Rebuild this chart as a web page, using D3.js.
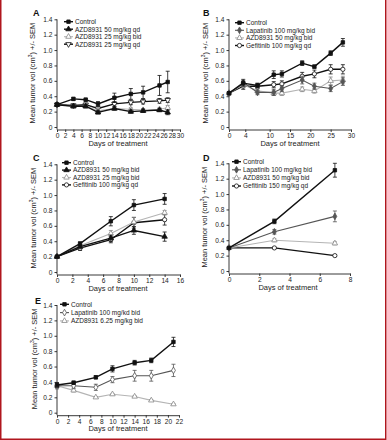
<!DOCTYPE html>
<html>
<head>
<meta charset="utf-8">
<script src="https://cdn.jsdelivr.net/npm/d3@7"></script>
<style>
  body { margin: 0; background: #fff; }
  svg { display: block; font-family: "Liberation Sans", Arial, sans-serif; }
</style>
</head>
<body>
<svg id="fig" width="387" height="440"></svg>
<script>
// ---- Panel A ----
const daysA = [0, 4, 7, 10, 14, 18, 21, 25, 27]
const controlA = [0.29, 0.365, 0.355, 0.30, 0.38, 0.43, 0.45, 0.54, 0.585]
const controlAErr = [0.02, 0.02, 0.02, 0.03, 0.06, 0.07, 0.08, 0.13, 0.14]
const azd50qdA = [0.29, 0.27, 0.27, 0.19, 0.24, 0.20, 0.21, 0.22, 0.19]
const azd50qdAErr = [0.02, 0.02, 0.02, 0.02, 0.02, 0.02, 0.02, 0.02, 0.03]
const azd25bidA = [0.29, 0.27, 0.27, 0.21, 0.24, 0.23, 0.22, 0.23, 0.25]
const azd25bidAErr = [0.02, 0.02, 0.02, 0.02, 0.02, 0.02, 0.02, 0.02, 0.03]
const azd25qdA = [0.29, 0.28, 0.29, 0.24, 0.30, 0.32, 0.33, 0.34, 0.35]
const azd25qdAErr = [0.02, 0.02, 0.02, 0.02, 0.03, 0.03, 0.03, 0.03, 0.03]

// ---- Panel B ----
const daysB = [0, 3.5, 7, 11, 13, 18, 21, 25, 28]
const controlB = [0.44, 0.57, 0.54, 0.68, 0.69, 0.83, 0.785, 0.96, 1.10]
const controlBErr = [0.02, 0.04, 0.03, 0.05, 0.04, 0.03, 0.02, 0.03, 0.05]
const lapB = [0.44, 0.58, 0.45, 0.45, 0.50, 0.61, 0.53, 0.50, 0.59]
const lapBErr = [0.02, 0.04, 0.03, 0.04, 0.04, 0.05, 0.04, 0.04, 0.05]
const azdB = [0.44, 0.55, 0.47, 0.44, 0.44, 0.49, 0.47, 0.60, 0.61]
const azdBErr = [0.02, 0.04, 0.03, 0.03, 0.03, 0.03, 0.03, 0.05, 0.05]
const gefB = [0.44, 0.53, 0.53, 0.55, 0.56, 0.66, 0.69, 0.75, 0.75]
const gefBErr = [0.02, 0.04, 0.03, 0.04, 0.04, 0.05, 0.05, 0.06, 0.06]

// ---- Panel C ----
const daysC = [0, 3, 7, 10, 14]
const controlC = [0.20, 0.37, 0.66, 0.87, 0.95]
const controlCErr = [0.01, 0.02, 0.06, 0.07, 0.07]
const azd50C = [0.20, 0.33, 0.44, 0.54, 0.46]
const azd50CErr = [0.01, 0.02, 0.04, 0.05, 0.06]
const azd25C = [0.20, 0.34, 0.50, 0.65, 0.77]
const azd25CErr = [0.01, 0.02, 0.04, 0.06, 0.03]
const gefC = [0.20, 0.31, 0.42, 0.64, 0.68]
const gefCErr = [0.01, 0.03, 0.04, 0.07, 0.07]

// ---- Panel D ----
const daysD = [0, 3, 7]
const controlD = [0.30, 0.645, 1.31]
const controlDErr = [0.01, 0.03, 0.09]
const lapD = [0.30, 0.51, 0.71]
const lapDErr = [0.01, 0.03, 0.07]
const azdD = [0.30, 0.40, 0.36]
const azdDErr = [0.01, 0.02, 0.02]
const gefD = [0.30, 0.30, 0.20]
const gefDErr = [0.01, 0.01, 0.01]

// ---- Panel E ----
const daysE = [0, 3, 7, 10, 14, 17, 21]
const controlE = [0.36, 0.39, 0.46, 0.57, 0.65, 0.68, 0.92]
const controlEErr = [0.03, 0.02, 0.02, 0.04, 0.03, 0.03, 0.06]
const lapE = [0.35, 0.35, 0.33, 0.43, 0.48, 0.48, 0.55]
const lapEErr = [0.04, 0.03, 0.04, 0.04, 0.07, 0.07, 0.08]
const azdE = [0.35, 0.29, 0.20, 0.24, 0.21, 0.16, 0.11]
const azdEErr = [0.03, 0.02, 0.01, 0.01, 0.01, 0.01, 0.01]

const yTicks = [0, 0.2, 0.4, 0.6, 0.8, 1.0, 1.2, 1.4]

// series styles
const black = "#111", dark = "#555", light = "#b4b4b4"

const panels = [
  { letter: "A", lx: 33, ly: 16, x0: 57, x1: 180, yTop: 19.3, yBot: 127,
    xDomain: [0, 30], xTicks: d3.range(0, 31, 2), xTitleX: 118, yTitleX: 35,
    legX: 64, legY: 21.7, legDy: 7.5,
    series: [
      { name: "Control", days: daysA, v: controlA, e: controlAErr, sym: "square", fill: true, color: black },
      { name: "AZD8931 50 mg/kg qd", days: daysA, v: azd50qdA, e: azd50qdAErr, sym: "triangle", fill: true, color: black },
      { name: "AZD8931 25 mg/kg bid", days: daysA, v: azd25bidA, e: azd25bidAErr, sym: "triangle", fill: false, color: light },
      { name: "AZD8931 25 mg/kg qd", days: daysA, v: azd25qdA, e: azd25qdAErr, sym: "triangleDown", fill: false, color: black }
    ] },
  { letter: "B", lx: 203, ly: 16, x0: 229, x1: 351, yTop: 19.3, yBot: 127,
    xDomain: [0, 30], xTicks: [0, 4, 10, 15, 20, 25, 30], xTitleX: 290, yTitleX: 208,
    legX: 235, legY: 22.7, legDy: 7.6,
    series: [
      { name: "Control", days: daysB, v: controlB, e: controlBErr, sym: "square", fill: true, color: black },
      { name: "Lapatinib 100 mg/kg bid", days: daysB, v: lapB, e: lapBErr, sym: "diamond", fill: true, color: dark },
      { name: "AZD8931 50 mg/kg bid", days: daysB, v: azdB, e: azdBErr, sym: "triangle", fill: false, color: light },
      { name: "Gefitinib 100 mg/kg qd", days: daysB, v: gefB, e: gefBErr, sym: "circle", fill: false, color: black }
    ] },
  { letter: "C", lx: 33, ly: 161, x0: 57, x1: 180, yTop: 164.3, yBot: 272,
    xDomain: [0, 16], xTicks: d3.range(0, 17, 2), xTitleX: 118, yTitleX: 36,
    legX: 62, legY: 162.7, legDy: 7.4,
    series: [
      { name: "Control", days: daysC, v: controlC, e: controlCErr, sym: "square", fill: true, color: black },
      { name: "AZD8931 50 mg/kg bid", days: daysC, v: azd50C, e: azd50CErr, sym: "triangle", fill: true, color: black },
      { name: "AZD8931 25 mg/kg bid", days: daysC, v: azd25C, e: azd25CErr, sym: "triangle", fill: false, color: light },
      { name: "Gefitinib 100 mg/kg qd", days: daysC, v: gefC, e: gefCErr, sym: "circle", fill: false, color: black }
    ] },
  { letter: "D", lx: 203, ly: 161, x0: 229, x1: 350, yTop: 163.3, yBot: 271,
    xDomain: [0, 8], xTicks: [0, 2, 4, 6, 8], xTitleX: 288, yTitleX: 207,
    legX: 232, legY: 161.7, legDy: 8.1,
    series: [
      { name: "Control", days: daysD, v: controlD, e: controlDErr, sym: "square", fill: true, color: black },
      { name: "Lapatinib 100 mg/kg bid", days: daysD, v: lapD, e: lapDErr, sym: "diamond", fill: true, color: dark },
      { name: "AZD8931 50 mg/kg bid", days: daysD, v: azdD, e: azdDErr, sym: "triangle", fill: false, color: light },
      { name: "Gefitinib 150 mg/kg qd", days: daysD, v: gefD, e: gefDErr, sym: "circle", fill: false, color: black }
    ] },
  { letter: "E", lx: 35, ly: 304, x0: 57, x1: 179, yTop: 305, yBot: 412.7,
    xDomain: [0, 22], xTicks: d3.range(0, 23, 2), xTitleX: 118, yTitleX: 37,
    legX: 60, legY: 304.3, legDy: 8.3,
    series: [
      { name: "Control", days: daysE, v: controlE, e: controlEErr, sym: "square", fill: true, color: black },
      { name: "Lapatinib 100 mg/kd bid", days: daysE, v: lapE, e: lapEErr, sym: "diamond", fill: false, color: dark },
      { name: "AZD8931 6.25 mg/kg bid", days: daysE, v: azdE, e: azdEErr, sym: "triangle", fill: false, color: light }
    ] }
]

const svg = d3.select("#fig")

// frame (left, right, bottom)
svg.append("path").attr("d", "M0.75,0V439.25H385.75V0")
  .attr("fill", "none").attr("stroke", "#b0161e").attr("stroke-width", 1.5)

const symbols = {
  square: d3.symbolSquare,
  triangle: d3.symbolTriangle,
  circle: d3.symbolCircle,
  diamond: d3.symbolDiamond
}

function drawMarker(g, sym, x, y, s) {
  const m = g.append("path")
  if (sym === "triangleDown") {
    m.attr("d", d3.symbol(d3.symbolTriangle, 13)())
      .attr("transform", `translate(${x},${y}) rotate(180)`)
  } else {
    const size = sym === "square" ? 12 : sym === "circle" ? 14 : 13
    m.attr("d", d3.symbol(symbols[sym], size)())
      .attr("transform", `translate(${x},${y})`)
  }
  m.attr("fill", s.fill ? s.color : "#fff")
    .attr("stroke", s.color === light ? "#888" : s.color)
    .attr("stroke-width", 0.8)
}

panels.forEach(p => {
  const g = svg.append("g")

  const xScale = d3.scaleLinear().domain(p.xDomain).range([p.x0, p.x1])
  const yScale = d3.scaleLinear().domain([0, 1.4]).range([p.yBot, p.yTop])
  const xAxisY = p.yBot + 2.5

  // y axis
  const yAxis = g.append("g")
    .attr("transform", `translate(${p.x0},0)`)
    .call(d3.axisLeft(yScale).tickValues(yTicks)
      .tickFormat(d => d === 0 ? "0" : d3.format(".1f")(d))
      .tickSize(2.5).tickPadding(2).tickSizeOuter(0))
  yAxis.select(".domain").attr("d", `M0,${p.yTop}V${xAxisY}`)

  // x axis
  g.append("g")
    .attr("transform", `translate(0,${xAxisY})`)
    .call(d3.axisBottom(xScale).tickValues(p.xTicks)
      .tickSize(2.5).tickPadding(1.5).tickSizeOuter(0))

  g.selectAll(".tick text").attr("font-size", 6.6).attr("fill", "#222")
  g.selectAll(".domain, .tick line").attr("stroke", "#222").attr("stroke-width", 0.9)

  // titles
  g.append("text").attr("x", p.xTitleX).attr("y", xAxisY + 16)
    .attr("text-anchor", "middle").attr("font-size", 7.5).attr("fill", "#222")
    .text("Days of treatment")

  const yt = g.append("text")
    .attr("transform", `translate(${p.yTitleX},${(p.yTop + p.yBot) / 2}) rotate(-90)`)
    .attr("text-anchor", "middle").attr("font-size", 7.5).attr("fill", "#222")
  yt.append("tspan").text("Mean tumor vol (cm")
  yt.append("tspan").attr("font-size", 5).attr("dy", -3).text("3")
  yt.append("tspan").attr("dy", 3).text(") +/- SEM")

  g.append("text").attr("x", p.lx).attr("y", p.ly)
    .attr("font-size", 9).attr("font-weight", "bold").attr("fill", "#111")
    .text(p.letter)

  // series: draw back to front (last series first)
  const line = d3.line()
    .x(d => xScale(d.day))
    .y(d => yScale(d.v))

  p.series.slice().reverse().forEach(s => {
    const pts = s.days.map((d, i) => ({ day: d, v: s.v[i], e: s.e[i] }))
    const lw = s.color === black ? 1.4 : 1.1
    g.append("path").attr("d", line(pts)).attr("fill", "none")
      .attr("stroke", s.color).attr("stroke-width", lw)

    const eb = s.color === light ? "#888" : s.color
    pts.forEach(d => {
      const cx = xScale(d.day)
      g.append("line").attr("x1", cx).attr("x2", cx)
        .attr("y1", yScale(d.v - d.e)).attr("y2", yScale(d.v + d.e))
        .attr("stroke", eb).attr("stroke-width", 0.8)
      ;[d.v - d.e, d.v + d.e].forEach(ev => {
        g.append("line").attr("x1", cx - 2).attr("x2", cx + 2)
          .attr("y1", yScale(ev)).attr("y2", yScale(ev))
          .attr("stroke", eb).attr("stroke-width", 0.8)
      })
    })
    pts.forEach(d => drawMarker(g, s.sym, xScale(d.day), yScale(d.v), s))
  })

  // legend
  p.series.forEach((s, i) => {
    const ly = p.legY + i * p.legDy
    g.append("line").attr("x1", p.legX).attr("x2", p.legX + 9)
      .attr("y1", ly).attr("y2", ly)
      .attr("stroke", s.color).attr("stroke-width", s.color === black ? 1.4 : 1.1)
    drawMarker(g, s.sym, p.legX + 4.5, ly, s)
    g.append("text").attr("x", p.legX + 11).attr("y", ly + 2.3)
      .attr("font-size", 6.5).attr("fill", "#222").text(s.name)
  })
})
</script>
</body>
</html>
